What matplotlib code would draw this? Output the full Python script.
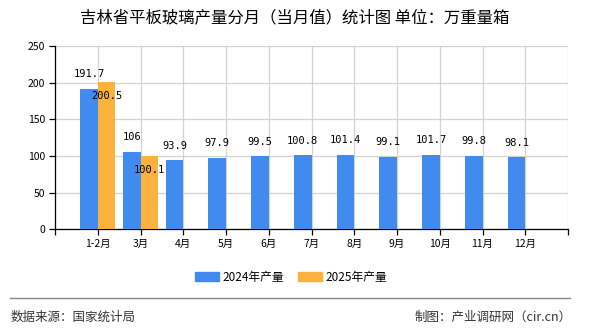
import matplotlib
matplotlib.use("Agg")
import matplotlib.pyplot as plt
from matplotlib.patches import Patch
import numpy as np

plt.rcParams['font.family'] = ['Noto Sans CJK SC', 'DejaVu Sans']

categories = ['1-2月', '3月', '4月', '5月', '6月', '7月', '8月', '9月', '10月', '11月', '12月']
output_2024 = [191.7, 106, 93.9, 97.9, 99.5, 100.8, 101.4, 99.1, 101.7, 99.8, 98.1]
output_2025 = [200.5, 100.1]
yticks = [0, 50, 100, 150, 200, 250]

blue = '#428BEE'
orange = '#FBB23D'

fig = plt.figure(figsize=(5.9, 3.3), dpi=100)
ax = fig.add_axes([55 / 590, 1 - 229.3 / 330, 513 / 590, 183.3 / 330])

x = np.arange(1, len(categories) + 1)
w = 0.41
ax.bar(x - w / 2, output_2024, width=w, color=blue, zorder=3)
x25 = x[:len(output_2025)]
ax.bar(x25 + w / 2, output_2025, width=w, color=orange, zorder=3)

mono = ['DejaVu Sans Mono', 'Noto Sans CJK SC']
for xi, v in zip(x, output_2024):
    ax.annotate(f'{v:g}', (xi - w / 2, v), xytext=(0, 7), textcoords='offset points',
                ha='center', va='bottom', fontsize=7.5, family=mono, zorder=5)
for xi, v in zip(x25, output_2025):
    ax.annotate(f'{v:g}', (xi + w / 2, v), xytext=(0, -10), textcoords='offset points',
                ha='center', va='center', fontsize=7.5, family=mono, zorder=5)

ax.set_xlim(0, len(categories) + 1)
ax.set_ylim(0, 250)
ax.set_yticks(yticks)
ax.set_yticklabels([str(t) for t in yticks], fontsize=7.5)
ax.set_xticks(np.arange(0, len(categories) + 2))
ax.set_xticklabels([''] + categories + [''], fontsize=7.5)

ax.grid(True, color='#D3D3D3', linewidth=0.9, zorder=0)
for s in ['top', 'right']:
    ax.spines[s].set_visible(False)
ax.spines['left'].set_color('black')
ax.spines['bottom'].set_color('black')
ax.spines['left'].set_linewidth(0.9)
ax.spines['bottom'].set_linewidth(0.9)
ax.tick_params(axis='both', direction='out', length=4, width=0.9, color='black', pad=3)

fig.text(294.5 / 590, 1 - 18 / 330, '吉林省平板玻璃产量分月（当月值）统计图 单位：万重量箱',
         ha='center', va='center', fontsize=11.8, fontweight='medium')

handles = [Patch(color=blue, label='2024年产量'), Patch(color=orange, label='2025年产量')]
fig.legend(handles=handles, loc='center', bbox_to_anchor=(291 / 590, 1 - 277 / 330), ncol=2,
           frameon=False, fontsize=8.5, handlelength=2.0, handleheight=0.8,
           columnspacing=1.2, handletextpad=0.3)

fig.add_artist(plt.Line2D([10 / 590, 570 / 590], [1 - 298 / 330] * 2, color='#888888', linewidth=1))
fig.text(11 / 590, 1 - 317 / 330, '数据来源：国家统计局', ha='left', va='center', fontsize=9, color='#333333')
fig.text(572 / 590, 1 - 317 / 330, '制图：产业调研网（cir.cn）', ha='right', va='center', fontsize=9, color='#333333')

fig.savefig('out.png', dpi=100)
